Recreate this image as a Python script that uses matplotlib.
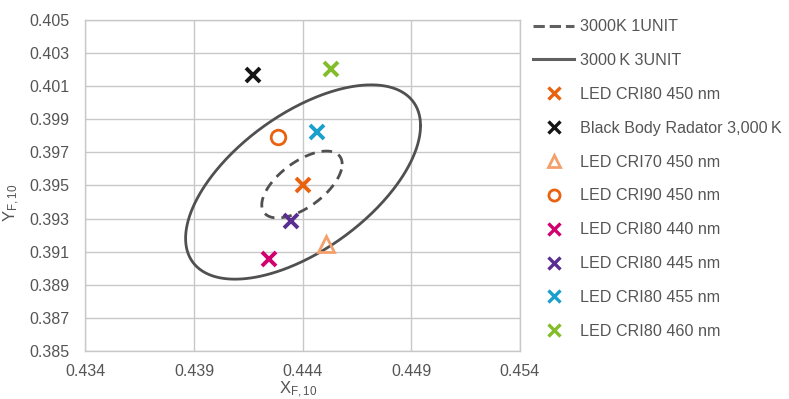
import numpy as np
import matplotlib
matplotlib.use('Agg')
from matplotlib import pyplot as plt
from matplotlib.lines import Line2D

plt.rcParams['font.family'] = ['Liberation Sans', 'DejaVu Sans']

# measured points (x, y chromaticity)
labels = ['LED CRI80 450 nm', 'Black Body Radator 3,000\u2009K', 'LED CRI70 450 nm',
          'LED CRI90 450 nm', 'LED CRI80 440 nm', 'LED CRI80 445 nm',
          'LED CRI80 455 nm', 'LED CRI80 460 nm']
xs = [0.44400, 0.44173, 0.44508, 0.44286, 0.44246, 0.44346, 0.44465, 0.44532]
ys = [0.39504, 0.40166, 0.39144, 0.39796, 0.39058, 0.39284, 0.39826, 0.40206]
markers = ['x', 'x', '^', 'o', 'x', 'x', 'x', 'x']
colors = ['#E8620F', '#151515', '#F4A06A', '#E8620F', '#D1006F', '#5A2D91', '#1B9FCC', '#84BD2A']

# MacAdam-type ellipses: centre, half-extent in x and y, correlation
ell_names = ['3000K 1UNIT', '3000\u2009K 3UNIT']
ell_cx = [0.44397, 0.44402]
ell_cy = [0.39506, 0.39521]
ell_sx = [0.00185, 0.005405]
ell_sy = [0.00202, 0.00587]
ell_rho = [0.61, 0.58]
ell_style = ['--', '-']

xticks = [0.434, 0.439, 0.444, 0.449, 0.454]
yticks = [0.385, 0.387, 0.389, 0.391, 0.393, 0.395, 0.397, 0.399, 0.401, 0.403, 0.405]

fig = plt.figure(figsize=(7.89, 3.99), dpi=100)
ax = fig.add_axes([0.1081, 0.1203, 0.5509, 0.8296])

txtc = '#555555'
gridc = '#C8C8C8'

ax.set_xlim(0.434, 0.454)
ax.set_ylim(0.385, 0.405)
ax.set_xticks(xticks)
ax.set_yticks(yticks)
ax.set_xticklabels(['%.3f' % v for v in xticks])
ax.set_yticklabels(['%.3f' % v for v in yticks])
ax.grid(True, color=gridc, lw=1)
ax.set_axisbelow(True)
for s in ax.spines.values():
    s.set_color(gridc)
    s.set_linewidth(1)
ax.tick_params(length=0, labelsize=11.5, colors=txtc)
ax.tick_params(axis='y', pad=11.5)
ax.tick_params(axis='x', pad=9)

t = np.linspace(0, 2 * np.pi, 400)
handles = []
for ii in range(len(ell_names)):
    ex = ell_cx[ii] + ell_sx[ii] * np.cos(t)
    ey = ell_cy[ii] + ell_sy[ii] * (ell_rho[ii] * np.cos(t) + np.sqrt(1 - ell_rho[ii] ** 2) * np.sin(t))
    ln, = ax.plot(ex, ey, ls=ell_style[ii], color='#505050', lw=2,
                  dashes=(3.8, 2.5) if ell_style[ii] == '--' else (None, None))
    handles.append(Line2D([], [], ls=ell_style[ii], color='#606060', lw=2.2, label=ell_names[ii]))

for ii in range(len(labels)):
    if markers[ii] == 'x':
        ax.plot(xs[ii], ys[ii], marker='x', ms=10, mew=2.8, color=colors[ii], ls='none')
    else:
        ax.plot(xs[ii], ys[ii], marker=markers[ii], ms=11 if markers[ii] == '^' else 10.5,
                mew=2, mfc='none', mec=colors[ii], ls='none')
    handles.append(Line2D([], [], marker=markers[ii], ls='none', ms=8,
                          mew=2.4 if markers[ii] == 'x' else 2,
                          color=colors[ii], mfc='none' if markers[ii] != 'x' else colors[ii],
                          mec=colors[ii], label=labels[ii]))

leg = fig.legend(handles=handles, loc='upper left', bbox_to_anchor=(0.668, 0.968),
                 frameon=False, fontsize=11.6, handlelength=2.5, handletextpad=0.4,
                 labelspacing=1.17, borderaxespad=0)
for tx in leg.get_texts():
    tx.set_color(txtc)

ax.set_ylabel(r'$\mathregular{Y_{F,10}}$', color=txtc, fontsize=12)
ax.yaxis.set_label_coords(-0.145, 0.447)
ax.set_xlabel(r'$\mathregular{X_{F,10}}$', color=txtc, fontsize=12)
ax.xaxis.set_label_coords(0.489, -0.088)

fig.savefig('out.png', dpi=100)
